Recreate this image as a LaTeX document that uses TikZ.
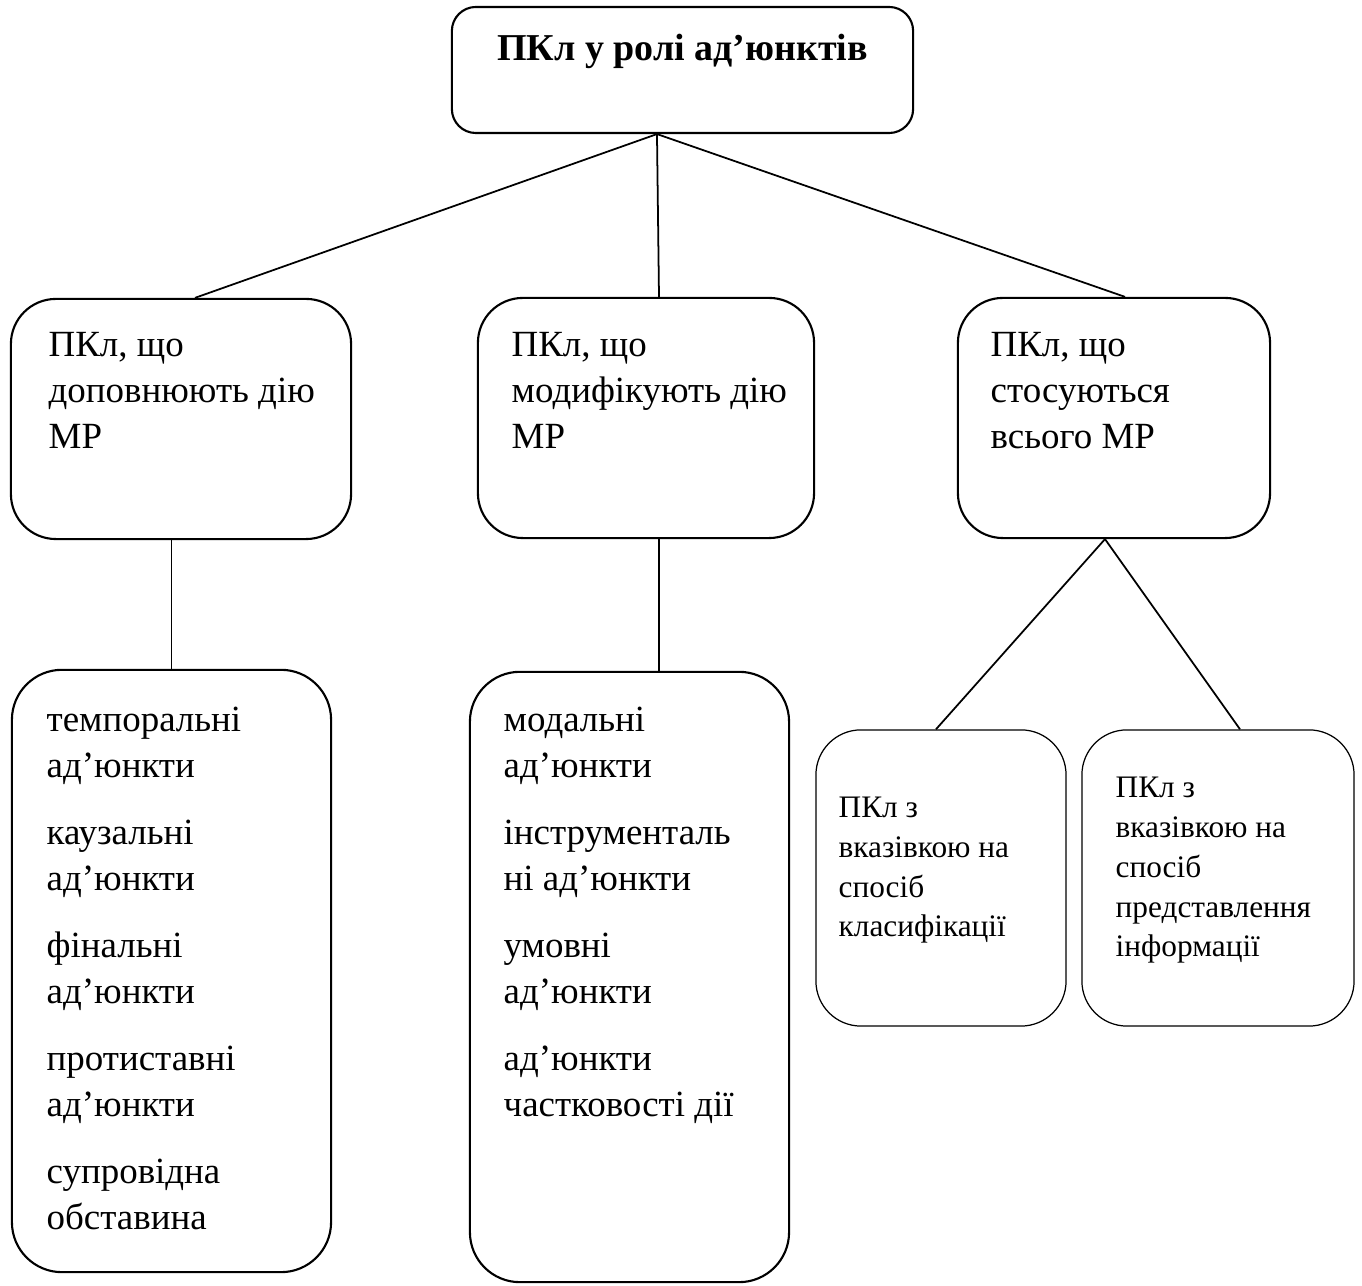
\documentclass[tikz,border=0pt]{standalone}
\usepackage{fontspec}
\setmainfont{Liberation Serif}
\begin{document}
\begin{tikzpicture}[x=0.01cm,y=-0.01cm,
  box/.style={draw, line width=0.6pt, rounded corners=0.45cm, inner sep=0pt},
  smallbox/.style={draw, line width=0.35pt, rounded corners=0.45cm, inner sep=0pt},
  link/.style={line width=0.5pt},
  % multi-line texts are placed by the baseline of their last line
  txt/.style={anchor=base west, inner sep=0pt, align=left,
    font=\fontsize{10.5pt}{13.1pt}\selectfont},
  smalltxt/.style={anchor=base west, inner sep=0pt, align=left,
    font=\fontsize{8.9pt}{11.35pt}\selectfont}]
\useasboundingbox (0,0) rectangle (1362,1286);

% root
\node[box, rounded corners=0.24cm, minimum width=4.61cm, minimum height=1.26cm] (top) at (682.5,70) {};
\node[anchor=base, inner sep=0pt, font=\fontsize{10.8pt}{13pt}\selectfont\bfseries] (toptxt) at (682.5,61) {ПКл у ролі ад’юнктів};

% second level
\node[box, minimum width=3.40cm, minimum height=2.40cm] (ml) at (181,419) {};
\node[box, minimum width=3.36cm, minimum height=2.40cm] (mm) at (646,418) {};
\node[box, minimum width=3.12cm, minimum height=2.40cm] (mr) at (1114,418) {};
\node[txt] (mltxt) at (48,449) {ПКл, що\\доповнюють дію\\МР};
\node[txt] (mmtxt) at (511,449) {ПКл, що\\модифікують дію\\МР};
\node[txt] (mrtxt) at (990,449) {ПКл, що\\стосуються\\всього МР};

% third level
\node[box, rounded corners=0.5cm, minimum width=3.19cm, minimum height=6.02cm] (bl) at (171.5,971) {};
\node[box, rounded corners=0.5cm, minimum width=3.19cm, minimum height=6.10cm] (bm) at (629.5,977) {};
\node[smallbox, minimum width=2.50cm, minimum height=2.96cm] (sl) at (941,878) {};
\node[smallbox, minimum width=2.72cm, minimum height=2.96cm] (sr) at (1218,878) {};

\node[txt] (bltxt) at (46,1230)
  {темпоральні\\ад’юнкти\\[0.21cm]каузальні\\ад’юнкти\\[0.21cm]фінальні\\ад’юнкти\\[0.21cm]протиставні\\ад’юнкти\\[0.21cm]супровідна\\обставина};
\node[txt] (bmtxt) at (503,1117)
  {модальні\\ад’юнкти\\[0.21cm]інструменталь\\ні ад’юнкти\\[0.21cm]умовні\\ад’юнкти\\[0.21cm]ад’юнкти\\частковості дії};
\node[smalltxt] (sltxt) at (838,937) {ПКл з\\вказівкою на\\спосіб\\класифікації};
\node[smalltxt] (srtxt) at (1115,957) {ПКл з\\вказівкою на\\спосіб\\представлення\\інформації};

% connectors
\coordinate (hub) at ([xshift=-0.255cm]top.south);
\draw[link] (hub) -- ([xshift=0.14cm]ml.north);
\draw[link] (hub) -- ([xshift=0.13cm]mm.north);
\draw[link] (hub) -- ([xshift=0.11cm]mr.north);
\draw[link] (bl.north |- ml.south) -- (bl.north);
\draw[link] ([xshift=0.295cm]bm.north |- mm.south) -- ([xshift=0.295cm]bm.north);
\coordinate (rhub) at ([xshift=-0.09cm]mr.south);
\draw[link] (rhub) -- ([xshift=-0.05cm]sl.north);
\draw[link] (rhub) -- ([xshift=0.22cm]sr.north);
\end{tikzpicture}
\end{document}
